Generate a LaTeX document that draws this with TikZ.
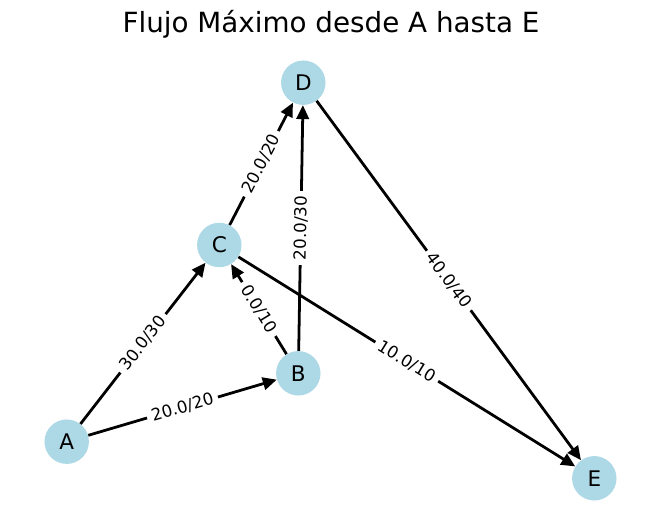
\documentclass[tikz,border=0pt]{standalone}
\usepackage{fontspec}
\setmainfont{DejaVu Sans}
\usetikzlibrary{arrows.meta}
\definecolor{NodeBlue}{HTML}{ADD8E6}

\begin{document}
\begin{tikzpicture}[x=0.72pt,y=-0.72pt,>={Triangle[length=10pt,width=9pt]}]
\tikzstyle{vertex}=[circle,fill=NodeBlue,minimum size=32pt,inner sep=0pt,font=\fontsize{15.5}{18}\selectfont]
\tikzstyle{flow}=[->,line width=2pt]
\tikzstyle{flowlabel}=[sloped,fill=white,rounded corners=3pt,inner sep=3.5pt,font=\fontsize{12}{14}\selectfont]
\useasboundingbox (0,0) rectangle (660,531);
\node[anchor=base,font=\fontsize{20}{24}\selectfont] (title) at (331,33) {Flujo Máximo desde A hasta E};
\node[vertex] (A) at (66.7,441.7) {A};
\node[vertex] (B) at (298.3,373.3) {B};
\node[vertex] (C) at (219.3,245) {C};
\node[vertex] (D) at (303.3,82.7) {D};
\node[vertex] (E) at (594.3,478.3) {E};
\draw[flow] (A) -- node[flowlabel] {20.0/20} (B);
\draw[flow] (A) -- node[flowlabel] {30.0/30} (C);
\draw[flow] (B) -- node[flowlabel] {0.0/10} (C);
\draw[flow] (B) -- node[flowlabel] {20.0/30} (D);
\draw[flow] (C) -- node[flowlabel] {20.0/20} (D);
\draw[flow] (C) -- node[flowlabel] {10.0/10} (E);
\draw[flow] (D) -- node[flowlabel] {40.0/40} (E);
\end{tikzpicture}
\end{document}
